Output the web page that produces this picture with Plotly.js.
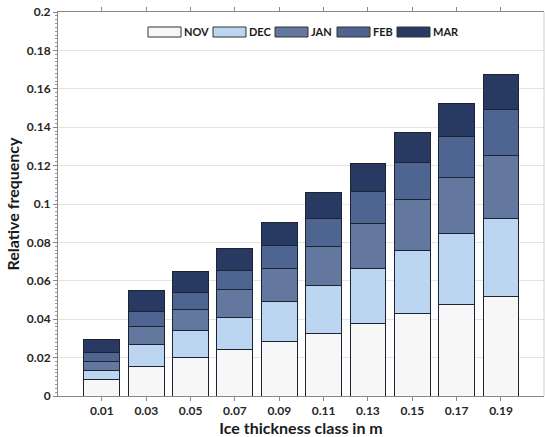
<!DOCTYPE html>
<html>
<head>
<meta charset="utf-8">
<script src="https://cdn.plot.ly/plotly-3.0.1.min.js"></script>
<style>html,body{margin:0;padding:0;background:#fff;}#chart{width:545px;height:437px;}</style>
</head>
<body>
<div id="chart"></div>
<script>
const categories = ['0.01','0.03','0.05','0.07','0.09','0.11','0.13','0.15','0.17','0.19'];
const months = ['NOV','DEC','JAN','FEB','MAR'];
const nov = [0.0087,0.0155,0.0201,0.0240,0.0285,0.0326,0.0378,0.0431,0.0476,0.0519];
const dec = [0.0047,0.0111,0.0138,0.0170,0.0208,0.0250,0.0287,0.0328,0.0368,0.0405];
const jan = [0.0047,0.0097,0.0114,0.0146,0.0170,0.0202,0.0234,0.0267,0.0295,0.0329];
const feb = [0.0045,0.0076,0.0085,0.0097,0.0122,0.0146,0.0167,0.0188,0.0213,0.0240];
const mar = [0.0067,0.0108,0.0108,0.0113,0.0120,0.0135,0.0146,0.0159,0.0172,0.0182];
const colors = ['#f7f7f7','#bcd6f2','#63779f','#4e6491','#283a62'];
const series = [nov, dec, jan, feb, mar];

const FONT = 'Lato, "Open Sans", sans-serif';
const traces = series.map((vals, i) => ({
  type: 'bar',
  name: months[i],
  x: categories,
  y: vals,
  marker: {color: colors[i], line: {color: '#1c2333', width: 1}},
  showlegend: false
}));

// custom legend (swatches + labels) in paper coordinates
const plotL = 58, plotW = 486, plotT = 12, plotH = 384;
const swatchX = [148, 213, 275, 337, 397];
const shapes = [];
const annotations = [];
months.forEach((m, i) => {
  const x0 = (swatchX[i] - plotL) / plotW;
  const x1 = (swatchX[i] + 33 - plotL) / plotW;
  const y0 = 1 - (37 - plotT) / plotH;
  const y1 = 1 - (27 - plotT) / plotH;
  shapes.push({type: 'rect', xref: 'paper', yref: 'paper', x0: x0, x1: x1, y0: y0, y1: y1,
    fillcolor: colors[i], line: {color: '#333', width: 1}});
  annotations.push({xref: 'paper', yref: 'paper', x: x1 + 2 / plotW, y: (y0 + y1) / 2,
    xanchor: 'left', yanchor: 'middle', showarrow: false, borderpad: 0, text: '<b>' + m + '</b>',
    font: {family: FONT, size: 11, color: '#1a1a1a'}});
});
shapes.push({type: 'line', xref: 'paper', yref: 'paper', x0: 1, x1: 1, y0: 0, y1: 1,
  line: {color: '#d0d0d0', width: 1}});

const layout = {
  width: 545, height: 437,
  margin: {l: 58, r: 1, t: 12, b: 41},
  paper_bgcolor: '#fff', plot_bgcolor: '#fff',
  barmode: 'stack',
  bargap: 0.19,
  showlegend: false,
  font: {family: FONT, color: '#262626'},
  xaxis: {
    type: 'category',
    range: [-0.99, 9.97],
    tickfont: {family: FONT, size: 12, color: '#262626', weight: 'bold'},
    ticks: 'outside', ticklen: 4, tickcolor: '#888',
    showline: true, linecolor: '#888', linewidth: 1, mirror: 'ticks',
    showgrid: false,
    title: {text: '<b>Ice thickness class in m</b>', font: {family: FONT, size: 16, color: '#1a1a1a'}, standoff: 2}
  },
  yaxis: {
    range: [0, 0.2],
    dtick: 0.02,
    tickfont: {family: FONT, size: 12, color: '#262626', weight: 'bold'},
    ticks: 'outside', ticklen: 4, tickcolor: '#888',
    minor: {dtick: 0.002, ticks: 'outside', ticklen: 2, tickcolor: '#999', showgrid: false},
    showline: true, linecolor: '#888', linewidth: 1,
    showgrid: true, gridcolor: '#e4e4e4', gridwidth: 1,
    zeroline: false,
    title: {text: '<b>Relative frequency</b>', font: {family: FONT, size: 16, color: '#1a1a1a'}, standoff: 3}
  },
  shapes: shapes,
  annotations: annotations
};

Plotly.newPlot('chart', traces, layout, {displayModeBar: false, staticPlot: true});
</script>
</body>
</html>
